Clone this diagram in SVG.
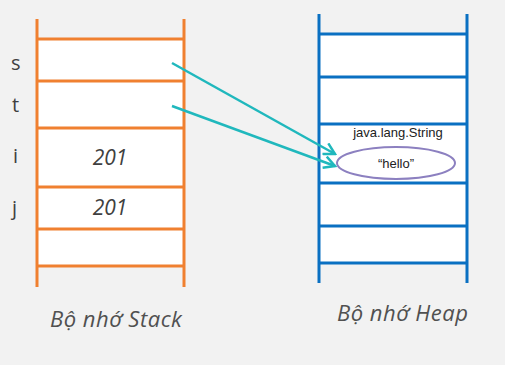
<svg xmlns="http://www.w3.org/2000/svg" width="505" height="365" viewBox="0 0 505 365">
  <style>
    .lbl { font-family: "Open Sans", "Noto Sans", "DejaVu Sans", sans-serif; fill: #404040; }
    .var { font-size: 20px; }
    .val { font-size: 21px; font-style: italic; text-anchor: middle; }
    .cap { font-size: 22px; font-style: italic; fill: #505050; letter-spacing: 0.5px; }
    .stack { stroke: #f08030; stroke-width: 3; fill: none; }
    .heap { stroke: #0a70c2; stroke-width: 3; fill: none; }
    .obj { font-family: "Liberation Sans", Arial, sans-serif; font-size: 13px; fill: #222; text-anchor: middle; }
    .ptr { stroke: #20b8bd; stroke-width: 2.5; fill: none; }
  </style>
  <defs>
    <marker id="chev" viewBox="0 0 14 14" refX="12" refY="7" markerWidth="14" markerHeight="14" markerUnits="userSpaceOnUse" orient="auto">
      <path d="M1,1 L12,7 L1,13" fill="none" stroke="#20b8bd" stroke-width="2.5"/>
    </marker>
  </defs>
  <rect width="505" height="365" fill="#f2f2f2"/>

  <!-- stack memory -->
  <g id="stack">
    <rect x="37" y="39" width="147" height="227" fill="#ffffff"/>
    <path class="stack" d="M37,19 V287 M184,19 V287 M37,39 H184 M37,81 H184 M37,128 H184 M37,187 H184 M37,229 H184 M37,266 H184"/>
    <text class="lbl var" x="11" y="70">s</text>
    <text class="lbl var" x="12" y="112">t</text>
    <text class="lbl var" x="13" y="163">i</text>
    <text class="lbl var" x="12" y="215">j</text>
    <text class="lbl val" x="110" y="165">201</text>
    <text class="lbl val" x="110" y="215">201</text>
    <text class="lbl cap" x="50" y="327">Bộ nhớ Stack</text>
  </g>

  <!-- heap memory -->
  <g id="heap">
    <rect x="319" y="34" width="148" height="229" fill="#ffffff"/>
    <path class="heap" d="M319,14 V283 M467,14 V283 M319,34 H467 M319,77 H467 M319,124 H467 M319,183 H467 M319,226 H467 M319,263 H467"/>
    <text class="lbl cap" x="337" y="321">Bộ nhớ Heap</text>
  </g>

  <!-- String object on the heap -->
  <g id="string-obj">
    <text class="obj" x="398" y="137">java.lang.String</text>
    <ellipse cx="396" cy="163" rx="59" ry="16" fill="#ffffff" stroke="#8c80c0" stroke-width="2"/>
    <text class="obj" x="396" y="168">“hello”</text>
  </g>

  <!-- references from s and t -->
  <g id="connectors">
    <line class="ptr" x1="172" y1="63" x2="335" y2="154" marker-end="url(#chev)"/>
    <line class="ptr" x1="172" y1="106" x2="335" y2="166" marker-end="url(#chev)"/>
  </g>
</svg>
